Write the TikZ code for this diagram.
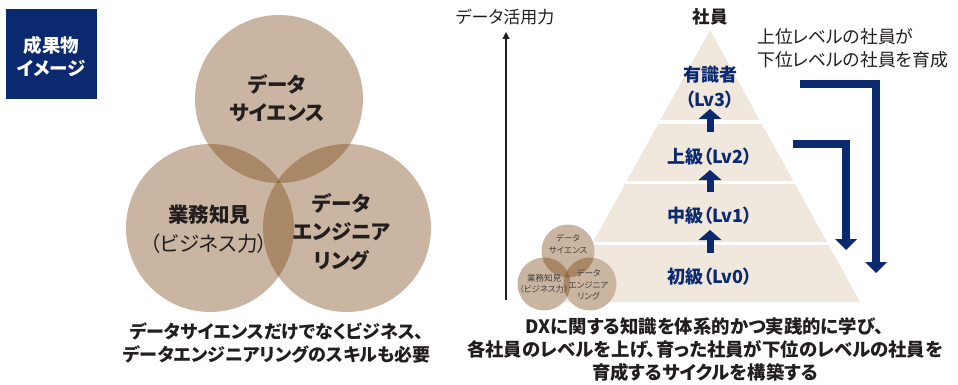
\documentclass[tikz,border=0pt]{standalone}
\usepackage{fontspec}
\newfontfamily\jp[RawFeature=+palt]{Noto Sans CJK JP}
\usetikzlibrary{arrows.meta}
\definecolor{navy}{RGB}{11,41,110}
\definecolor{venn}{RGB}{116,65,12}
\definecolor{pyr}{RGB}{240,231,221}
\definecolor{txt}{RGB}{35,30,30}
\tikzset{
  base/.style={inner sep=0pt, align=center, text=txt},
  bigvenn/.style={circle, minimum size=168pt, inner sep=0pt, fill=venn, fill opacity=0.39, draw=none},
  smallvenn/.style={circle, minimum size=53pt, inner sep=0pt, fill=venn, fill opacity=0.39, draw=none},
  smallunder/.style={circle, minimum size=53pt, inner sep=0pt, fill=white, draw=none},
  venntext/.style={base, font=\jp\bfseries\fontsize{20.5}{28.5}\selectfont},
  minitext/.style={base, text=txt!85, font=\jp\fontsize{8.5}{11.5}\selectfont},
  lvtext/.style={base, text=navy, font=\jp\bfseries\fontsize{18}{25}\selectfont},
  captext/.style={base, font=\jp\bfseries\fontsize{18}{23.5}\selectfont},
  uparrow/.style={navy, line width=7pt, -{Triangle[width=23pt,length=10pt,line width=0pt]}},
  bigarrow/.style={navy, line width=8pt, -{Triangle[width=22pt,length=11pt,line width=0pt]}},
  sep/.style={white, line width=3.5pt}
}
\begin{document}
\begin{tikzpicture}[x=1pt,y=-1pt]
\useasboundingbox (0,0) rectangle (958,385);

% tag box
\node[fill=navy, minimum width=91pt, minimum height=90pt, inner sep=0pt] (tag) at (51.5,54) {};
\node[base, text=white, font=\jp\bfseries\fontsize{18.5}{23}\selectfont] (tagtext) at (51.5,56.5) {成果物\\イメージ};

% big venn
\node[bigvenn] (ds) at (279,99) {};
\node[bigvenn] (biz) at (210,228) {};
\node[bigvenn] (de) at (347,228) {};
\node[venntext] (dst) at (277,98) {データ\\サイエンス};
\node[venntext] (bizt) at (209,229) {業務知見\\{\mdseries （ビジネス力）}};
\node[venntext] (det) at (341.5,232) {データ\\エンジニア\\リング};

\node[captext] (capl) at (277,343) {データサイエンスだけでなくビジネス、\\データエンジニアリングのスキルも必要};

% axis
\coordinate (ax0) at (506,300);
\coordinate (ax1) at (506,32);
\draw[line width=1.2pt, draw=txt, -{Triangle[width=7pt,length=7pt]}] (ax0) -- (ax1);
\node[base, font=\jp\fontsize{17}{20}\selectfont] (axl) at (505,17) {データ活用力};

% pyramid
\fill[pyr] (710,30) -- (860,302) -- (560,302) -- cycle;
\draw[sep] (640,122) -- (780,122);
\draw[sep] (610,182.5) -- (810,182.5);
\draw[sep] (585,243.5) -- (830,243.5);

\node[base, font=\jp\bfseries\fontsize{17.5}{20}\selectfont] (emp) at (710,17) {社員};

\node[lvtext] (lv3) at (710,87.5) {有識者\\（Lv3）};
\node[lvtext] (lv2) at (710,157) {上級（Lv2）};
\node[lvtext] (lv1) at (710,216) {中級（Lv1）};
\node[lvtext] (lv0) at (710,277) {初級（Lv0）};

\coordinate (u3a) at (710,132); \coordinate (u3b) at (710,109);
\coordinate (u2a) at (710,192); \coordinate (u2b) at (710,170);
\coordinate (u1a) at (710,253); \coordinate (u1b) at (710,230);
\draw[uparrow] (u3a) -- (u3b);
\draw[uparrow] (u2a) -- (u2b);
\draw[uparrow] (u1a) -- (u1b);

% teaching arrows
\coordinate (a1s) at (800,84); \coordinate (a1c) at (876,84); \coordinate (a1e) at (876,273);
\coordinate (a2s) at (793,144); \coordinate (a2c) at (846,144); \coordinate (a2e) at (846,250);
\draw[bigarrow] (a1s) -- (a1c) -- (a1e);
\draw[bigarrow] (a2s) -- (a2c) -- (a2e);

\node[base, anchor=west, align=left, font=\jp\fontsize{17.8}{23}\selectfont] (teach) at (757,48.5) {上位レベルの社員が\\下位レベルの社員を育成};

% small venn
\node[smallunder] at (568,251) {};
\node[smallunder] at (544,284) {};
\node[smallunder] at (590,284) {};
\node[smallvenn] (sds) at (568,251) {};
\node[smallvenn] (sbiz) at (544,284) {};
\node[smallvenn] (sde) at (590,284) {};
\node[minitext] (sdst) at (568,244) {データ\\サイエンス};
\node[minitext] (sbizt) at (544,284) {業務知見\\（ビジネス力）};
\node[minitext] (sdet) at (588.5,285) {データ\\エンジニア\\リング};

\node[captext, font=\jp\bfseries\fontsize{18.4}{23}\selectfont] (capr) at (705,350) {DXに関する知識を体系的かつ実践的に学び、\\各社員のレベルを上げ、育った社員が下位のレベルの社員を\\育成するサイクルを構築する};
\end{tikzpicture}
\end{document}
